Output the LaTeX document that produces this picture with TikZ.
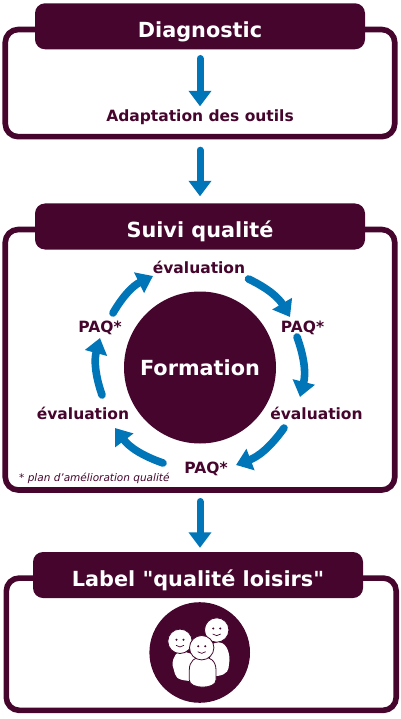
\documentclass[tikz,border=0pt]{standalone}
\usepackage{fontspec}
\setmainfont{DejaVu Sans}
\newfontfamily\quotefont{DejaVu Sans}
\usetikzlibrary{arrows.meta}
\definecolor{plum}{HTML}{45052C}
\definecolor{flowblue}{HTML}{0075B8}
\tikzset{
	framebox/.style={draw=plum, line width=5.6pt, rounded corners=13pt, inner sep=0pt},
	headbox/.style={fill=plum, text=white, rounded corners=10pt, minimum width=330pt, minimum height=46pt, inner sep=0pt, text height=22.5pt, text depth=0pt, font=\bfseries\fontsize{20.8}{24}\selectfont},
	looplabel/.style={text=plum, inner sep=0pt, font=\bfseries\fontsize{15.5}{18}\selectfont},
	flowarrow/.style={draw=flowblue, line width=7pt, line cap=round, -{Triangle[width=22pt,length=15.5pt]}},
	loopbend/.style={flowarrow, line width=7.6pt},
	person/.style={fill=white, draw=plum, line width=.8pt},
}
\begin{document}
\begin{tikzpicture}[x=1pt,y=-1pt]
	\useasboundingbox (0,0) rectangle (400,719);
	\node[framebox, minimum width=389.5pt, minimum height=107.2pt] (frameone) at (200,83.1) {};
	\node[framebox, minimum width=389.5pt, minimum height=260.5pt] (frametwo) at (200,359.75) {};
	\node[framebox, minimum width=389.9pt, minimum height=132.3pt] (framethree) at (201.25,644.2) {};
	\node[headbox] (diagnostic) at (200,26.3) {Diagnostic};
	\node[headbox] (suivi) at (200,226.5) {Suivi qualité};
	\node[headbox] (labelq) at (198,575) {\quotefont Label "qualité loisirs"};
	\node[looplabel] (adaptation) at (200,117) {Adaptation des outils};
	\node[circle, fill=plum, text=white, minimum size=152pt, inner sep=0pt, font=\bfseries\fontsize{20.8}{24}\selectfont] (formation) at (200,367.5) {Formation};
	\node[looplabel] (evtop) at (199,267) {évaluation};
	\node[looplabel] (paqright) at (302.5,327.5) {PAQ*};
	\node[looplabel] (evright) at (316.5,413) {évaluation};
	\node[looplabel] (paqbottom) at (206,469) {PAQ*};
	\node[looplabel] (evleft) at (83,413) {évaluation};
	\node[looplabel] (paqleft) at (100,327.5) {PAQ*};
	\node[text=plum, inner sep=0pt, anchor=west, font=\itshape\fontsize{10.5}{12}\selectfont] (note) at (19,478.5) {* plan d’amélioration qualité};
	\draw[flowarrow, shorten <=9pt] (diagnostic.south) -- ([yshift=3pt]adaptation.north);
	\draw[flowarrow, shorten <=10.7pt, shorten >=7pt] (frameone.south) -- (suivi.north);
	\draw[flowarrow, shorten <=8.7pt, shorten >=4pt] (frametwo.south) -- (labelq.north -| frametwo.south);
	\foreach \from/\fromx/\fromy/\to/\tox/\toy in {
		evtop/49.5/12/paqright/-12.5/-10.5,
		paqright/-5.5/9.5/evright/-16.5/-16,
		evright/-32.5/15/paqbottom/30/-4,
		paqbottom/-43/-6/evleft/32/15,
		evleft/19/-18/paqleft/0/10.5,
		paqleft/13/-14.5/evtop/-46/9} {
		\draw[loopbend] ([shift={(\fromx,\fromy)}]\from.center) to[bend left=17] ([shift={(\tox,\toy)}]\to.center);
	}
	\node[circle, fill=plum, minimum size=100.6pt, inner sep=0pt] (badge) at (199.7,652.5) {};
	% three people
	\fill[white] (172.5,665) .. controls (172.5,657) and (177,651) .. (182,651) -- (195,655) -- (195,681) .. controls (185,681) and (176,680) .. (175,674) -- cycle;
	\node[circle, person, minimum size=24.4pt, inner sep=0pt] (headleft) at (180,641.3) {};
	\fill[white] (229.5,660) .. controls (229.5,650) and (225,642) .. (218,642) -- (210,645) -- (210,676) .. controls (222,677) and (228,673) .. (228.5,668) -- cycle;
	\node[circle, person, minimum size=24.4pt, inner sep=0pt] (headright) at (216.7,630) {};
	\draw[person] (189.3,680) -- (189.3,670) .. controls (189.3,661) and (195,656.7) .. (202.7,656.7) .. controls (210,656.7) and (216,661) .. (216,670) -- (216,680) .. controls (216,689.5) and (189.3,689.5) .. (189.3,680) -- cycle;
	\node[circle, person, minimum size=24.4pt, inner sep=0pt] (headmid) at (201.7,647.7) {};
	\foreach \hx/\hy in {180/641.3,216.7/630,201.7/647.7} {
		\fill[plum] (\hx-3.5,\hy-1.5) circle (1.1pt);
		\fill[plum] (\hx+3.5,\hy-1.5) circle (1.1pt);
		\draw[plum, line width=.7pt] (\hx-4,\hy+4) to[bend right=45] (\hx+4,\hy+4);
	}
\end{tikzpicture}
\end{document}
